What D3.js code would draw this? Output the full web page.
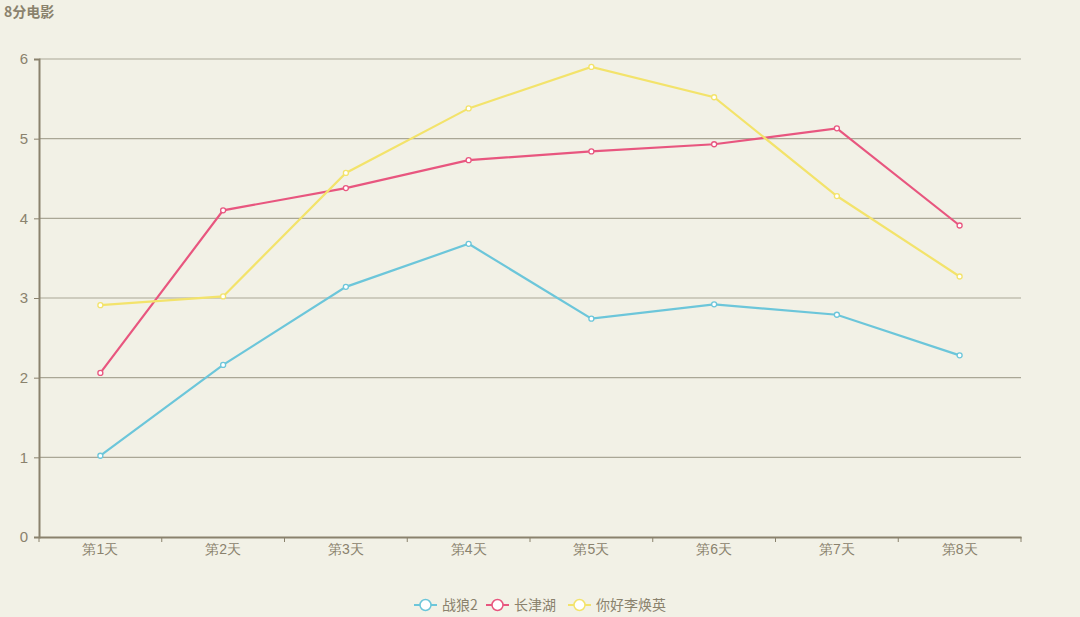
<!DOCTYPE html>
<html>
<head>
<meta charset="utf-8">
<script src="https://cdn.jsdelivr.net/npm/d3@7"></script>
<style>
  body { margin: 0; background: #f2f1e6; }
  svg { display: block; font-family: "Noto Sans CJK SC", "Noto Sans", sans-serif; }
</style>
</head>
<body>
<svg id="chart" width="1080" height="617"></svg>
<script>
const days = ["第1天", "第2天", "第3天", "第4天", "第5天", "第6天", "第7天", "第8天"];
const seriesNames = ["战狼2", "长津湖", "你好李焕英"];
const zhanlang = [1.02, 2.16, 3.14, 3.68, 2.74, 2.92, 2.79, 2.28];
const changjin = [2.06, 4.10, 4.38, 4.73, 4.84, 4.93, 5.13, 3.91];
const nihao = [2.91, 3.02, 4.57, 5.38, 5.90, 5.52, 4.28, 3.27];
const colors = ["#6cc6da", "#e8567f", "#f3e36b"];
const yTicks = [0, 1, 2, 3, 4, 5, 6];

const svg = d3.select("#chart");
const mLeft = 39, mRight = 1021, mTop = 59, mBottom = 537;
const axisColor = "#8a826d";

svg.append("rect").attr("width", 1080).attr("height", 617).attr("fill", "#f2f1e6");

svg.append("text")
    .attr("x", 4).attr("y", 17)
    .attr("font-size", 14).attr("font-weight", "bold")
    .attr("fill", axisColor)
    .text("8分电影");

const x = d3.scaleBand().domain(days).range([mLeft, mRight]);
const y = d3.scaleLinear().domain([0, 6]).range([mBottom, mTop]);

// grid lines
svg.append("g").selectAll("line")
    .data(yTicks.filter(d => d > 0))
    .enter().append("line")
    .attr("x1", mLeft).attr("x2", mRight)
    .attr("y1", d => y(d)).attr("y2", d => y(d))
    .attr("stroke", "#aaa796").attr("stroke-width", 1.2);

// y axis
const yAxis = svg.append("g")
    .attr("transform", `translate(${mLeft},0)`)
    .call(d3.axisLeft(y).tickValues(yTicks).tickFormat(d3.format("d")).tickSize(5).tickPadding(6));
yAxis.select(".domain").attr("stroke", axisColor).attr("stroke-width", 2);
yAxis.selectAll(".tick line").attr("stroke", axisColor);
yAxis.selectAll("text").attr("fill", axisColor).attr("font-size", 15)
    .attr("font-family", "Liberation Sans, sans-serif");

// x axis
const xAxis = svg.append("g")
    .attr("transform", `translate(0,${mBottom})`)
    .call(d3.axisBottom(x).tickSize(0).tickPadding(7));
xAxis.select(".domain").attr("stroke", axisColor).attr("stroke-width", 2);
xAxis.selectAll("text").attr("fill", axisColor).attr("font-size", 14);
svg.append("g").selectAll("line")
    .data(d3.range(days.length + 1))
    .enter().append("line")
    .attr("x1", i => mLeft + i * x.step()).attr("x2", i => mLeft + i * x.step())
    .attr("y1", mBottom).attr("y2", mBottom + 5)
    .attr("stroke", axisColor).attr("stroke-width", 1);

const allSeries = [zhanlang, changjin, nihao];
const line = d3.line()
    .x((d, i) => x(days[i]) + x.bandwidth() / 2)
    .y(d => y(d));

allSeries.forEach((vals, si) => {
    const g = svg.append("g");
    g.append("path")
        .datum(vals)
        .attr("d", line)
        .attr("fill", "none")
        .attr("stroke", colors[si])
        .attr("stroke-width", 2.2);
    g.selectAll("circle")
        .data(vals)
        .enter().append("circle")
        .attr("cx", (d, i) => x(days[i]) + x.bandwidth() / 2)
        .attr("cy", d => y(d))
        .attr("r", 2.5)
        .attr("fill", "#fff")
        .attr("stroke", colors[si])
        .attr("stroke-width", 1.3);
});

// legend
const legendX = [414, 486, 568];
const legend = svg.append("g");
seriesNames.forEach((name, i) => {
    const g = legend.append("g").attr("transform", `translate(${legendX[i]},605)`);
    g.append("line").attr("x1", 0).attr("x2", 23).attr("y1", 0).attr("y2", 0)
        .attr("stroke", colors[i]).attr("stroke-width", 2);
    g.append("circle").attr("cx", 11.5).attr("cy", 0).attr("r", 5.5)
        .attr("fill", "#fff").attr("stroke", colors[i]).attr("stroke-width", 1.5);
    g.append("text").attr("x", 28).attr("y", 5)
        .attr("font-size", 14).attr("fill", axisColor)
        .text(name);
});
</script>
</body>
</html>
